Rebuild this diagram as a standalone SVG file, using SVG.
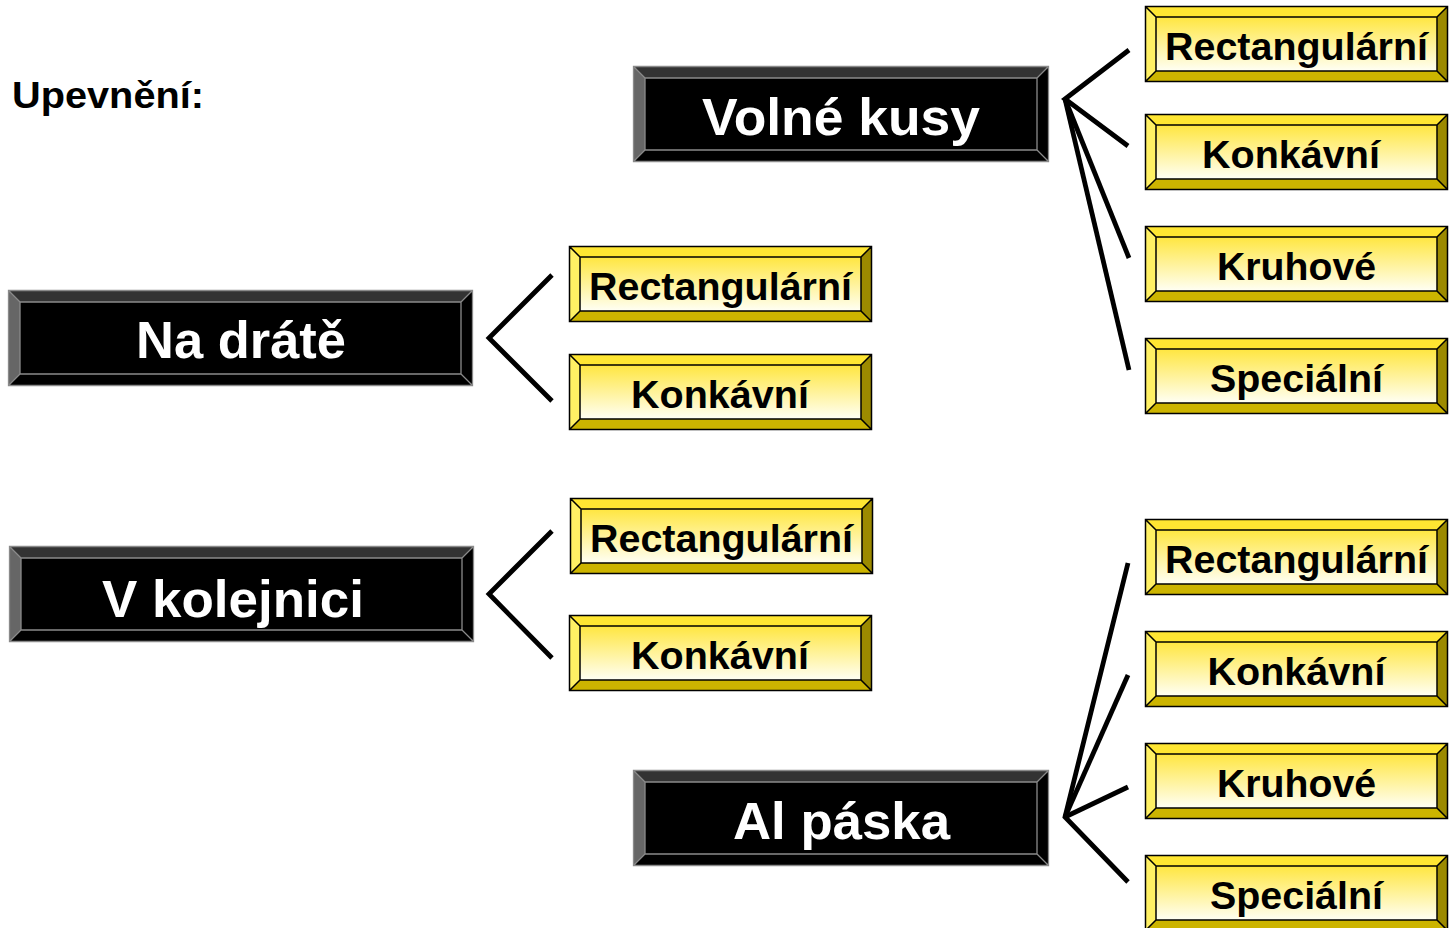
<svg xmlns="http://www.w3.org/2000/svg" xmlns:xlink="http://www.w3.org/1999/xlink" width="1452" height="928" viewBox="0 0 1452 928">
<style>
.bt{fill:#333333}.bl{fill:#666666}.bb{fill:#000000}.br{fill:#000000}.bi{fill:#000000}
.bline{fill:none;stroke:#8a8a8a;stroke-width:1.3}
.yt{fill:#ffe632}.yl{fill:#fff064}.yb{fill:#ccb400}.yr{fill:#9c8a00}.yi{fill:url(#yg)}
.yline{fill:none;stroke:#000;stroke-width:1.5}
.wt{font-family:"Liberation Sans",Arial,sans-serif;font-weight:bold;font-size:52px;fill:#fff;text-anchor:middle}
.kt{font-family:"Liberation Sans",Arial,sans-serif;font-weight:bold;font-size:39.5px;fill:#000;text-anchor:middle}
.title{font-family:"Liberation Sans",Arial,sans-serif;font-weight:bold;font-size:37px;fill:#000}
.con{fill:none;stroke:#000;stroke-width:4.8;stroke-linejoin:miter;stroke-linecap:butt}
</style>
<defs>
<linearGradient id="yg" x1="0" y1="0" x2="0" y2="1">
<stop offset="0" stop-color="#ffe640"/>
<stop offset="1" stop-color="#fffff4"/>
</linearGradient>
<g id="ybox">
<rect class="yi" x="0" y="0" width="303" height="76"/>
<path class="yt" d="M0 0H303L292 11H11Z"/>
<path class="yl" d="M0 0L11 11V65L0 76Z"/>
<path class="yb" d="M0 76L11 65H292L303 76Z"/>
<path class="yr" d="M303 0V76L292 65V11Z"/>
<rect class="yi" x="11" y="11" width="281" height="54"/>
<path class="yline" d="M0.5 0.5H302.5V75.5H0.5Z M11 11H292V65H11Z M0.5 0.5L11 11 M302.5 0.5L292 11 M0.5 75.5L11 65 M302.5 75.5L292 65"/>
</g>
<g id="bboxS">
<rect class="bi" x="0" y="0" width="416" height="96"/>
<path class="bt" d="M0 0H416L404 12H12Z"/>
<path class="bl" d="M0 0L12 12V84L0 96Z"/>
<path class="bb" d="M0 96L12 84H404L416 96Z"/>
<path class="br" d="M416 0V96L404 84V12Z"/>
<path class="bline" d="M0.5 0.5H415.5V95.5H0.5Z M12 12H404V84H12Z M0.5 0.5L12 12 M415.5 0.5L404 12 M0.5 95.5L12 84 M415.5 95.5L404 84"/>
</g>
<g id="bboxL">
<rect class="bi" x="0" y="0" width="465" height="96"/>
<path class="bt" d="M0 0H465L453 12H12Z"/>
<path class="bl" d="M0 0L12 12V84L0 96Z"/>
<path class="bb" d="M0 96L12 84H453L465 96Z"/>
<path class="br" d="M465 0V96L453 84V12Z"/>
<path class="bline" d="M0.5 0.5H464.5V95.5H0.5Z M12 12H453V84H12Z M0.5 0.5L12 12 M464.5 0.5L453 12 M0.5 95.5L12 84 M464.5 95.5L453 84"/>
</g>
</defs>
<rect width="1452" height="928" fill="#fff"/>
<text class="title" x="12" y="108" textLength="192" lengthAdjust="spacingAndGlyphs">Upevnění:</text>

<g id="connectors">
<path class="con" d="M1129 50L1065 99L1128 146"/>
<path class="con" d="M1065 99L1129 258"/>
<path class="con" d="M1065 99L1129 370"/>
<path class="con" d="M552 275L489 338L552 401"/>
<path class="con" d="M552 531L489 594L552 658"/>
<path class="con" d="M1128 563L1065 817L1128 882"/>
<path class="con" d="M1065 817L1128 675"/>
<path class="con" d="M1065 817L1128 787"/>
</g>

<g id="volne-kusy"><use xlink:href="#bboxS" x="633" y="66"/><text class="wt" x="841" y="135" textLength="278" lengthAdjust="spacingAndGlyphs">Volné kusy</text></g>
<g id="na-drate"><use xlink:href="#bboxL" x="8" y="290"/><text class="wt" x="241" y="358" textLength="210" lengthAdjust="spacingAndGlyphs">Na drátě</text></g>
<g id="v-kolejnici"><use xlink:href="#bboxL" x="9" y="546"/><text class="wt" x="233" y="617" textLength="262" lengthAdjust="spacingAndGlyphs">V kolejnici</text></g>
<g id="al-paska"><use xlink:href="#bboxS" x="633" y="770"/><text class="wt" x="841.5" y="839" textLength="217" lengthAdjust="spacingAndGlyphs">Al páska</text></g>

<g id="vk-rect"><use xlink:href="#ybox" x="1145" y="6"/><text class="kt" x="1296.5" y="60" textLength="263" lengthAdjust="spacingAndGlyphs">Rectangulární</text></g>
<g id="vk-konk"><use xlink:href="#ybox" x="1145" y="114"/><text class="kt" x="1291" y="168" textLength="178" lengthAdjust="spacingAndGlyphs">Konkávní</text></g>
<g id="vk-kruh"><use xlink:href="#ybox" x="1145" y="226"/><text class="kt" x="1296.5" y="280" textLength="159" lengthAdjust="spacingAndGlyphs">Kruhové</text></g>
<g id="vk-spec"><use xlink:href="#ybox" x="1145" y="338"/><text class="kt" x="1296.5" y="392" textLength="173" lengthAdjust="spacingAndGlyphs">Speciální</text></g>

<g id="nd-rect"><use xlink:href="#ybox" x="569" y="246"/><text class="kt" x="720.5" y="300" textLength="263" lengthAdjust="spacingAndGlyphs">Rectangulární</text></g>
<g id="nd-konk"><use xlink:href="#ybox" x="569" y="354"/><text class="kt" x="720" y="408" textLength="178" lengthAdjust="spacingAndGlyphs">Konkávní</text></g>

<g id="vkol-rect"><use xlink:href="#ybox" x="570" y="498"/><text class="kt" x="721.5" y="552" textLength="263" lengthAdjust="spacingAndGlyphs">Rectangulární</text></g>
<g id="vkol-konk"><use xlink:href="#ybox" x="569" y="615"/><text class="kt" x="720" y="669" textLength="178" lengthAdjust="spacingAndGlyphs">Konkávní</text></g>

<g id="al-rect"><use xlink:href="#ybox" x="1145" y="519"/><text class="kt" x="1296.5" y="573" textLength="263" lengthAdjust="spacingAndGlyphs">Rectangulární</text></g>
<g id="al-konk"><use xlink:href="#ybox" x="1145" y="631"/><text class="kt" x="1296.5" y="685" textLength="178" lengthAdjust="spacingAndGlyphs">Konkávní</text></g>
<g id="al-kruh"><use xlink:href="#ybox" x="1145" y="743"/><text class="kt" x="1296.5" y="797" textLength="159" lengthAdjust="spacingAndGlyphs">Kruhové</text></g>
<g id="al-spec"><use xlink:href="#ybox" x="1145" y="855"/><text class="kt" x="1296.5" y="909" textLength="173" lengthAdjust="spacingAndGlyphs">Speciální</text></g>
</svg>
